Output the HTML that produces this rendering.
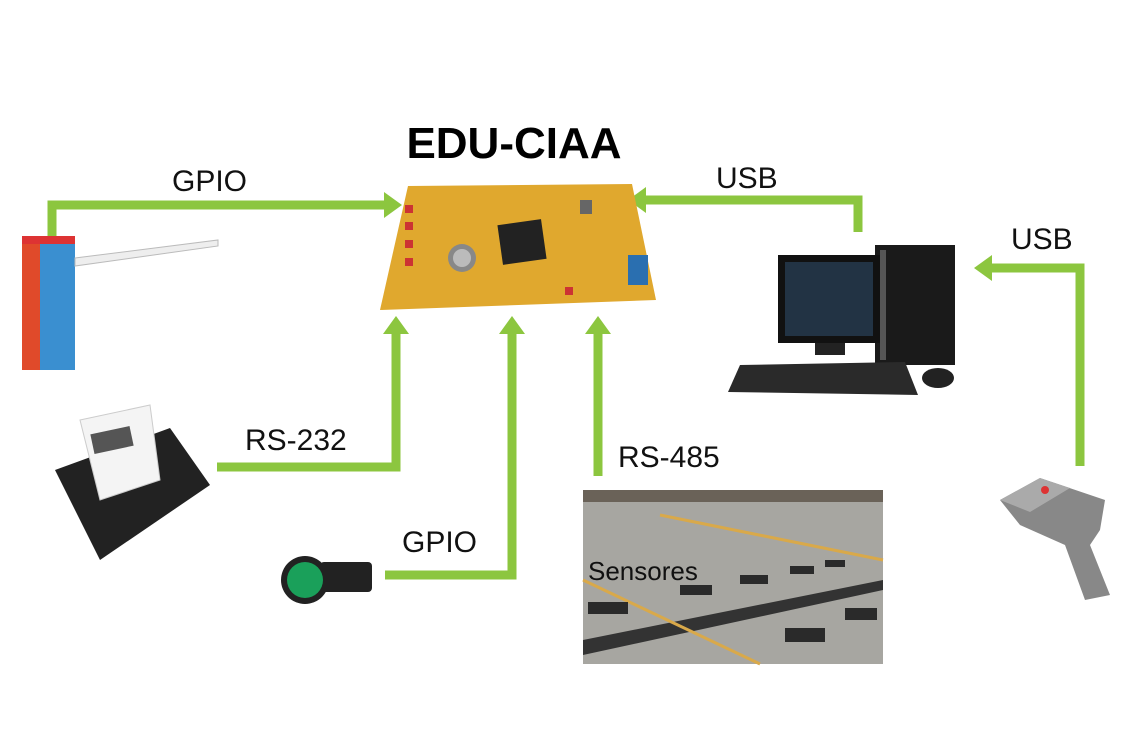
<!DOCTYPE html>
<html><head><meta charset="utf-8"><style>
html,body{margin:0;padding:0;background:#fff;}
svg{display:block;}
text{font-family:"Liberation Sans",sans-serif;}
</style></head><body>
<svg width="1132" height="755" viewBox="0 0 1132 755">
<rect width="1132" height="755" fill="#fff"/>
<g stroke="#8cc63f" stroke-width="9" fill="none">
<polyline points="52,245 52,205 388,205"/>
<polyline points="858,232 858,200 640,200"/>
<polyline points="1080,466 1080,268 990,268"/>
<polyline points="217,467 396,467 396,332"/>
<polyline points="385,575 512,575 512,332"/>
<polyline points="598,476 598,332"/>
</g>
<g fill="#8cc63f">
<polygon points="402,205 384,192 384,218"/>
<polygon points="628,200 646,187 646,213"/>
<polygon points="974,268 992,255 992,281"/>
<polygon points="396,316 383,334 409,334"/>
<polygon points="512,316 499,334 525,334"/>
<polygon points="598,316 585,334 611,334"/>
</g>
<text x="514" y="158" font-size="44" font-weight="bold" text-anchor="middle" fill="#000">EDU-CIAA</text>
<g font-size="30" fill="#111">
<text x="172" y="191">GPIO</text>
<text x="716" y="188">USB</text>
<text x="1011" y="249">USB</text>
<text x="245" y="450">RS-232</text>
<text x="402" y="552">GPIO</text>
<text x="618" y="467">RS-485</text>
</g>
<!-- board -->
<polygon points="408,186 632,184 656,300 380,310" fill="#e0a82e"/>
<rect x="500" y="222" width="44" height="40" fill="#222" transform="rotate(-8 522 242)"/>
<circle cx="462" cy="258" r="14" fill="#888"/><circle cx="462" cy="258" r="9" fill="#bbb"/>
<rect x="628" y="255" width="20" height="30" fill="#2a6fb0"/>
<g fill="#c33"><rect x="405" y="205" width="8" height="8"/><rect x="405" y="222" width="8" height="8"/><rect x="405" y="240" width="8" height="8"/><rect x="405" y="258" width="8" height="8"/><rect x="565" y="287" width="8" height="8"/></g>
<rect x="580" y="200" width="12" height="14" fill="#666"/>
<!-- barrier -->
<rect x="22" y="240" width="53" height="130" fill="#3a8fd0"/>
<rect x="22" y="240" width="18" height="130" fill="#e04a2a"/>
<rect x="22" y="236" width="53" height="8" fill="#d33"/>
<polygon points="75,258 218,240 218,246 75,266" fill="#eee" stroke="#bbb"/>
<!-- printer -->
<polygon points="55,470 170,428 210,485 100,560" fill="#222"/>
<polygon points="80,420 150,405 160,480 100,500" fill="#f4f4f4" stroke="#ccc"/>
<rect x="92" y="430" width="40" height="20" fill="#555" transform="rotate(-12 112 440)"/>
<!-- button -->
<rect x="320" y="562" width="52" height="30" fill="#222" rx="4"/>
<circle cx="305" cy="580" r="24" fill="#222"/>
<circle cx="305" cy="580" r="18" fill="#1aa05a"/>
<!-- computer -->
<rect x="875" y="245" width="80" height="120" fill="#1a1a1a"/>
<rect x="880" y="250" width="6" height="110" fill="#555"/>
<rect x="778" y="255" width="102" height="88" fill="#111"/>
<rect x="785" y="262" width="88" height="74" fill="#234"/>
<rect x="815" y="343" width="30" height="12" fill="#222"/>
<polygon points="740,365 905,362 918,395 728,392" fill="#2a2a2a"/>
<ellipse cx="938" cy="378" rx="16" ry="10" fill="#222"/>
<!-- sensors -->
<rect x="583" y="490" width="300" height="174" fill="#a7a6a1"/>
<rect x="583" y="490" width="300" height="12" fill="#6a6258"/>
<polygon points="583,640 883,580 883,590 583,655" fill="#333"/>
<g stroke="#d9a94a" stroke-width="3"><line x1="660" y1="515" x2="883" y2="560"/><line x1="583" y1="580" x2="760" y2="664"/></g>
<g fill="#2a2a2a"><rect x="588" y="602" width="40" height="12"/><rect x="680" y="585" width="32" height="10"/><rect x="740" y="575" width="28" height="9"/><rect x="790" y="566" width="24" height="8"/><rect x="785" y="628" width="40" height="14"/><rect x="845" y="608" width="32" height="12"/><rect x="825" y="560" width="20" height="7"/></g>
<text x="588" y="580" font-size="26" fill="#111">Sensores</text>
<!-- scanner -->
<polygon points="1000,500 1040,478 1105,500 1100,530 1090,545 1110,595 1085,600 1065,545 1020,525" fill="#888"/>
<polygon points="1000,500 1040,478 1070,488 1030,512" fill="#aaa"/>
<circle cx="1045" cy="490" r="4" fill="#d33"/>
</svg>
</body></html>
